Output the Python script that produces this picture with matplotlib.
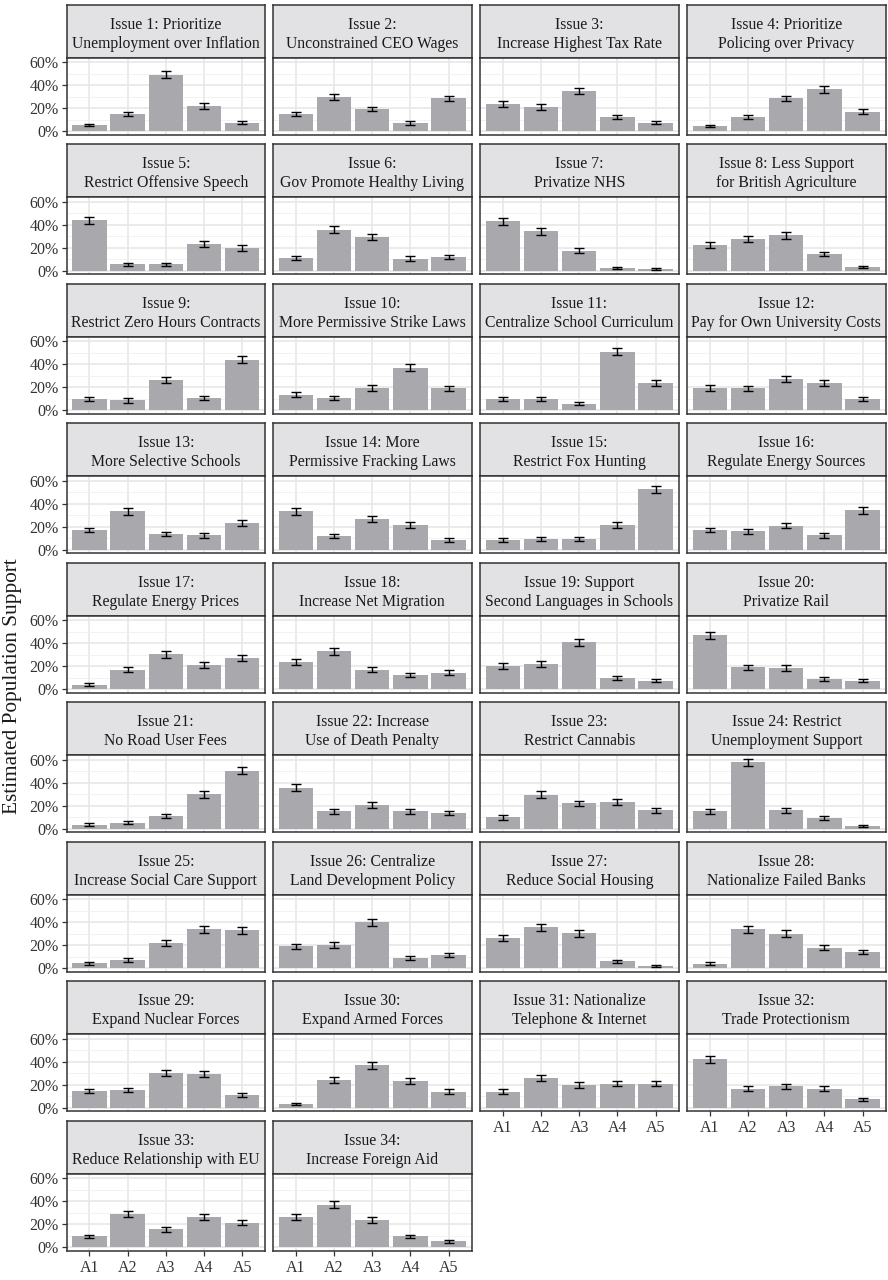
import matplotlib
matplotlib.use("Agg")
import matplotlib.pyplot as plt
from matplotlib.ticker import FixedLocator, FuncFormatter

plt.rcParams["font.family"] = ["Liberation Serif", "DejaVu Serif"]

answers = ["A1", "A2", "A3", "A4", "A5"]

titles = [
    "Issue 1: Prioritize\nUnemployment over Inflation",
    "Issue 2:\nUnconstrained CEO Wages",
    "Issue 3:\nIncrease Highest Tax Rate",
    "Issue 4: Prioritize\nPolicing over Privacy",
    "Issue 5:\nRestrict Offensive Speech",
    "Issue 6:\nGov Promote Healthy Living",
    "Issue 7:\nPrivatize NHS",
    "Issue 8: Less Support\nfor British Agriculture",
    "Issue 9:\nRestrict Zero Hours Contracts",
    "Issue 10:\nMore Permissive Strike Laws",
    "Issue 11:\nCentralize School Curriculum",
    "Issue 12:\nPay for Own University Costs",
    "Issue 13:\nMore Selective Schools",
    "Issue 14: More\nPermissive Fracking Laws",
    "Issue 15:\nRestrict Fox Hunting",
    "Issue 16:\nRegulate Energy Sources",
    "Issue 17:\nRegulate Energy Prices",
    "Issue 18:\nIncrease Net Migration",
    "Issue 19: Support\nSecond Languages in Schools",
    "Issue 20:\nPrivatize Rail",
    "Issue 21:\nNo Road User Fees",
    "Issue 22: Increase\nUse of Death Penalty",
    "Issue 23:\nRestrict Cannabis",
    "Issue 24: Restrict\nUnemployment Support",
    "Issue 25:\nIncrease Social Care Support",
    "Issue 26: Centralize\nLand Development Policy",
    "Issue 27:\nReduce Social Housing",
    "Issue 28:\nNationalize Failed Banks",
    "Issue 29:\nExpand Nuclear Forces",
    "Issue 30:\nExpand Armed Forces",
    "Issue 31: Nationalize\nTelephone & Internet",
    "Issue 32:\nTrade Protectionism",
    "Issue 33:\nReduce Relationship with EU",
    "Issue 34:\nIncrease Foreign Aid",
]

# estimated support (%) for each answer option A1..A5
support = [
    [5.5, 15, 49, 22, 7.5],
    [15, 29.5, 19.5, 7, 28.5],
    [24, 21, 35, 12.5, 7.5],
    [4.5, 12.5, 28.5, 36.5, 17],
    [44, 5.5, 5.5, 23.5, 20],
    [11, 35.5, 29.5, 10.5, 12],
    [43, 34.5, 17.5, 2.5, 1.5],
    [22.5, 27.5, 31, 14.5, 3],
    [9.5, 8.5, 26.5, 10.5, 44],
    [13.5, 10.5, 19.5, 37, 19],
    [9.5, 9.5, 5.5, 51, 24],
    [19.5, 19, 27, 24, 9.5],
    [17, 33.5, 13.5, 12.5, 23],
    [33.5, 12, 26.5, 21.5, 8.5],
    [8.5, 9.5, 9.5, 21.5, 52.5],
    [17, 16, 21, 12.5, 34.5],
    [4, 17, 30.5, 21, 27],
    [23.5, 33, 17, 12.5, 14.5],
    [20, 22, 41, 10, 7.5],
    [47, 19, 18.5, 9, 7.5],
    [3.5, 5, 11, 30, 50.5],
    [35.5, 15, 20.5, 15, 13.5],
    [10, 29.5, 22, 23, 16],
    [15, 58, 16, 9, 2.5],
    [4.5, 7, 22, 34, 33],
    [19, 20, 40, 9, 11.5],
    [26, 35.5, 30.5, 6, 2],
    [4, 34, 30, 18, 14],
    [14.5, 15.5, 30, 29.5, 11],
    [3.5, 24, 37, 23, 14],
    [14, 26, 20, 21, 21],
    [42, 16.5, 18.5, 16.5, 7.5],
    [9.5, 29, 15.5, 26.5, 21.5],
    [26, 37, 24, 9.5, 5],
]

# half-width of the uncertainty interval (%)
halfwidth = [
    [1.2, 2, 3, 2.5, 1.5],
    [2, 2.5, 2, 1.5, 2.5],
    [2.5, 2.5, 3, 2, 1.5],
    [1.2, 2, 2.5, 3, 2],
    [3, 1.3, 1.3, 2.5, 2.5],
    [2, 3, 2.5, 2, 2],
    [3, 3, 2, 1, 0.8],
    [2.5, 2.5, 3, 2, 1],
    [1.8, 1.8, 2.5, 2, 3],
    [2, 2, 2.5, 3, 2.5],
    [1.8, 1.8, 1.3, 3, 2.5],
    [2.5, 2.5, 2.5, 2.5, 1.8],
    [2, 3, 2, 2, 2.5],
    [3, 2, 2.5, 2.5, 1.5],
    [1.5, 1.8, 1.8, 2.5, 3],
    [2, 2, 2.5, 2, 3],
    [1.3, 2, 3, 2.5, 2.5],
    [2.5, 3, 2, 2, 2],
    [2.5, 2.5, 3, 1.8, 1.5],
    [3, 2.5, 2.5, 1.5, 1.5],
    [1.3, 1.3, 2, 3, 3],
    [3, 2, 2.5, 2, 2],
    [2, 3, 2.5, 2.5, 2],
    [2, 3, 2, 1.8, 0.8],
    [1.3, 1.5, 2.5, 3, 3],
    [2.5, 2.5, 3, 1.5, 2],
    [2.5, 3, 3, 1.3, 0.8],
    [1.2, 3, 3, 2.5, 2],
    [2, 2, 2.5, 2.5, 2],
    [1, 2.5, 3, 2.5, 2],
    [2, 2.5, 2.5, 2.5, 2.5],
    [3, 2, 2.5, 2, 1.3],
    [1.5, 2.5, 2, 2.5, 2.5],
    [2.5, 3, 2.5, 1.5, 1],
]

W, H = 888, 1280
fig = plt.figure(figsize=(W / 100, H / 100), dpi=100)

ncol = 4
col_x = [66.5, 273.0, 480.0, 687.0]
panel_w = 198.5
row_top0 = 4.7
row_pitch = 139.5
strip_h = 53.0
panel_h = 77.0

BAR = "#a9a9ad"
STRIP = "#e2e2e4"
BORDER = "#333333"
GRID_MAJ = "#e6e6e6"
GRID_MIN = "#f0f0f0"
TICKCOL = "#333333"

n = len(titles)
xs = list(range(1, len(answers) + 1))

def fig_rect(x, y_top, w, h):
    return [x / W, 1 - (y_top + h) / H, w / W, h / H]

for i in range(n):
    r, c = divmod(i, ncol)
    top = row_top0 + r * row_pitch
    # facet strip with the issue title
    sax = fig.add_axes(fig_rect(col_x[c], top, panel_w, strip_h))
    sax.set_facecolor(STRIP)
    sax.set_xticks([])
    sax.set_yticks([])
    for s in sax.spines.values():
        s.set_color(BORDER)
        s.set_linewidth(1.1)
    sax.text(0.5, 0.44, titles[i], ha="center", va="center", fontsize=11.3,
             color="#1a1a1a", linespacing=1.25, transform=sax.transAxes)

    # bar panel
    ax = fig.add_axes(fig_rect(col_x[c], top + strip_h, panel_w, panel_h))
    ax.set_facecolor("white")
    ax.bar(xs, support[i], width=0.9, color=BAR, zorder=2)
    ax.errorbar(xs, support[i], yerr=halfwidth[i], fmt="none", ecolor="black",
                elinewidth=1.0, capsize=3.4, capthick=1.0, zorder=3)
    ax.set_xlim(0.4, 5.6)
    ax.set_ylim(-3.05, 64.0)
    ax.yaxis.set_major_locator(FixedLocator([0, 20, 40, 60]))
    ax.yaxis.set_minor_locator(FixedLocator([10, 30, 50]))
    ax.yaxis.set_major_formatter(FuncFormatter(lambda v, p: f"{v:.0f}%"))
    ax.set_xticks(xs)
    ax.grid(which="major", color=GRID_MAJ, linewidth=1.1, zorder=0)
    ax.grid(which="minor", axis="y", color=GRID_MIN, linewidth=0.6, zorder=0)
    ax.set_axisbelow(True)
    for s in ax.spines.values():
        s.set_color(BORDER)
        s.set_linewidth(1.1)
        s.set_zorder(4)

    show_y = (c == 0)
    show_x = (i + ncol >= n)
    ax.tick_params(axis="y", which="minor", length=0)
    ax.tick_params(axis="y", which="major", length=3.5 if show_y else 0,
                   color=TICKCOL, width=0.9, labelleft=show_y,
                   labelsize=11.5, labelcolor="#333333", pad=2)
    ax.tick_params(axis="x", length=3.5 if show_x else 0, color=TICKCOL,
                   width=0.9, labelbottom=show_x, labelsize=11.5,
                   labelcolor="#333333", pad=3)
    if show_x:
        ax.set_xticklabels(answers)

fig.text(13 / W, 1 - 686 / H, "Estimated Population Support", rotation=90,
         ha="center", va="center", fontsize=15.3, color="#1a1a1a")

fig.savefig("out.png", dpi=100)
